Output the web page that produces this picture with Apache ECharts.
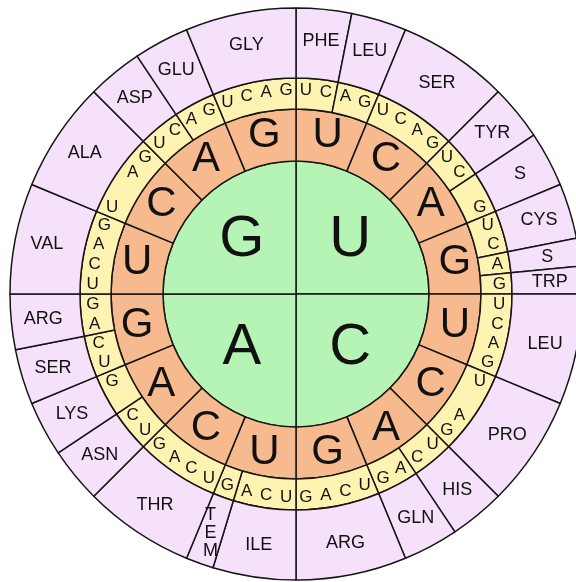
<!DOCTYPE html>
<html>
<head>
<meta charset="utf-8">
<script src="https://cdn.jsdelivr.net/npm/echarts@6/dist/echarts.min.js"></script>
<style>
html,body{margin:0;padding:0;background:#fff;}
#chart{width:576px;height:582px;}
</style>
</head>
<body>
<div id="chart"></div>
<script>
// First base (centre), clockwise from top
const firstBase = ['U', 'C', 'A', 'G'];
// Second base ring, clockwise from top
const secondBase = ['U','C','A','G','U','C','A','G','U','C','A','G','U','C','A','G'];
// Third base ring, clockwise from top
const thirdBase = [
  'U','C','A','G','U','C','A','G','U','C','A','G','U','C','A','G',
  'U','C','A','G','U','C','A','G','U','C','A','G','U','C','A','G',
  'U','C','A','G','U','C','A','G','U','C','A','G','U','C','A','G',
  'U','C','A','G','U','C','A','G','U','C','A','G','U','C','A','G'
];
// Amino acids, clockwise from top, with number of codons each covers
const aminoLabels = ['PHE','LEU','SER','TYR','S','CYS','S','TRP',
  'LEU','PRO','HIS','GLN','ARG',
  'ILE','T\nE\nM','THR','ASN','LYS','SER','ARG',
  'VAL','ALA','ASP','GLU','GLY'];
const aminoCodons = [2,2,4,2,2,2,1,1,
  4,4,2,2,4,
  3,1,4,2,2,2,2,
  4,4,2,2,4];

const center = [296, 294];
const stroke = '#161616';
const font = 'Liberation Sans';

function ring(data, radius, color, fontSize, opts) {
  opts = opts || {};
  return {
    type: 'pie',
    center: center,
    radius: radius,
    startAngle: 90,
    clockwise: true,
    silent: true,
    animation: false,
    avoidLabelOverlap: false,
    minAngle: 0,
    z: opts.z || 2,
    emphasis: {disabled: true},
    itemStyle: {
      color: color,
      borderColor: stroke,
      borderWidth: opts.border === false ? 0 : 1.5
    },
    label: {
      show: fontSize > 0,
      position: 'inside',
      rotate: 0,
      color: '#111',
      fontFamily: font,
      fontSize: fontSize || 12,
      lineHeight: fontSize || 12,
      formatter: p => p.name
    },
    labelLine: {show: false},
    data: data
  };
}

const chart = echarts.init(document.getElementById('chart'), null, {renderer: 'canvas'});
chart.setOption({
  backgroundColor: '#ffffff',
  series: [
    // centre disc (borders only)
    ring(firstBase.map(b => ({name: b, value: 1})), [0, 133], '#b6f4b6', 0),
    // centre letters
    ring(firstBase.map(b => ({name: b, value: 1})), [14, 133], 'rgba(0,0,0,0)', 58, {border: false, z: 3}),
    // second base ring
    ring(secondBase.map(b => ({name: b, value: 1})), [133, 185], '#f6ba8e', 42),
    // third base ring: cells grouped by amino acid
    ring(aminoLabels.map((a, i) => ({name: a, value: aminoCodons[i]})), [185, 216], '#fff3b2', 0),
    // third base letters
    ring(thirdBase.map(b => ({name: b, value: 1})), [185, 216], 'rgba(0,0,0,0)', 17, {border: false, z: 3}),
    // amino acid ring
    ring(aminoLabels.map((a, i) => ({name: a, value: aminoCodons[i]})), [216, 286], '#f5e1fa', 18)
  ]
});
</script>
</body>
</html>
